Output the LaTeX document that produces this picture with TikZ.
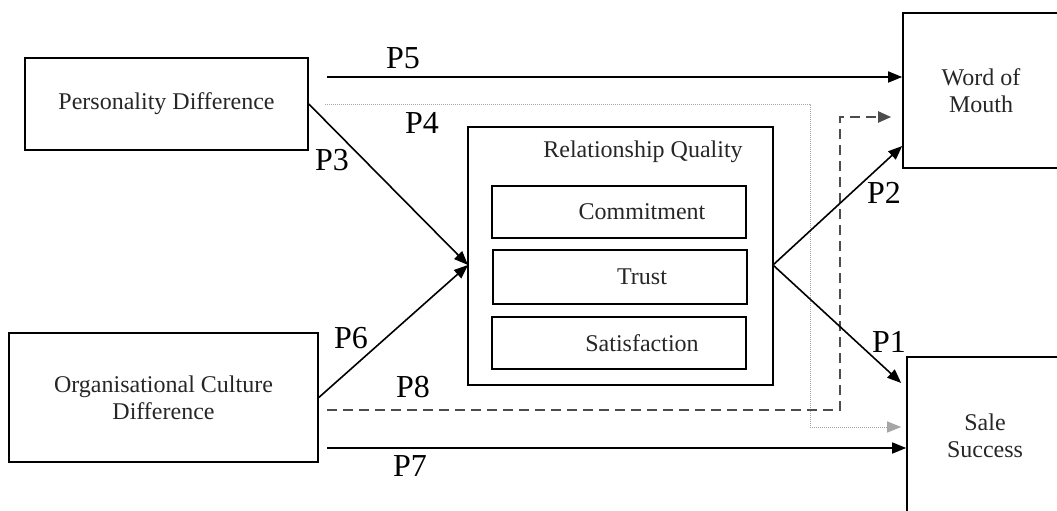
\documentclass[tikz,border=0pt]{standalone}
\usepackage{fontspec}
\setmainfont{Liberation Serif}
\usetikzlibrary{arrows.meta}
\tikzset{
  box/.style={draw, line width=1.6pt, minimum width=#1, inner sep=0pt, align=center,
              font=\fontsize{24}{27}\selectfont, text=black!85},
  boxtext/.style={font=\fontsize{24}{27}\selectfont, text=black!85, inner sep=0pt},
  path/.style={line width=1.6pt, -{Triangle[length=14pt,width=11pt]}},
  faint/.style={draw=black!35, line width=1pt, dash pattern=on 1pt off 1pt,
                -{Triangle[length=14pt,width=11pt]}},
  dashpath/.style={draw=black!70, line width=2pt, dash pattern=on 10pt off 6pt,
                   -{Triangle[length=13pt,width=11pt,sep=0pt]}},
  plab/.style={font=\fontsize{32}{32}\selectfont, inner sep=0pt}
}
\begin{document}
\begin{tikzpicture}[x=1pt,y=-1pt]
\useasboundingbox (0,0) rectangle (1057,511);

% constructs
\node[box=283pt, minimum height=92pt] (pd) at (166.5,104) {Personality Difference};
\node[box=309pt, minimum height=129pt] (ocd) at (163.5,397.5) {Organisational Culture\\Difference};
\node[box=305pt, minimum height=258pt] (rq) at (620.5,256) {};
\node[boxtext] (rqt) at (643,152) {Relationship Quality};
\node[box=254pt, minimum height=52pt] (com) at (619,212) {};
\node[boxtext] at (642,212) {Commitment};
\node[box=254pt, minimum height=54pt] (tru) at (620,277) {};
\node[boxtext] at (642,277) {Trust};
\node[box=254pt, minimum height=52pt] (sat) at (619,343) {};
\node[boxtext] at (642,343) {Satisfaction};
\node[box=156pt, minimum height=155pt] (wom) at (981,90.5) {Word of\\Mouth};
\node[box=156pt, minimum height=158pt] (ss) at (985,436) {Sale\\Success};

% free ends of the paths
\coordinate (rqin) at (468,265);
\coordinate (rqout) at (773,265);
\coordinate (p5s) at (327,77);
\coordinate (p4s) at (325,104);
\coordinate (p8s) at (327,410);
\coordinate (p7s) at (327,448);

% paths
\draw[path] (p5s) -- (wom.west |- p5s);
\draw[faint] (p4s) -- (810,104) -- (810,427) -- ([xshift=-5pt]ss.west |- 0,427);
\draw[path] (pd.east) -- (rqin);
\draw[path] (ocd.east) -- (rqin);
\draw[dashpath] (p8s) -- (840,410) -- (840,117) -- ([xshift=-11pt]wom.west |- 0,117);
\draw[path] (p7s) -- (ss.west |- p7s);
\draw[path] (rqout) -- (wom.west |- 0,146);
\draw[path] (rqout) -- ([xshift=-5pt]ss.west |- 0,383);

% labels
\node[plab] at (403,58) {P5};
\node[plab] at (422,123) {P4};
\node[plab] at (332,160) {P3};
\node[plab] at (351,338) {P6};
\node[plab] at (413,387) {P8};
\node[plab] at (410,466) {P7};
\node[plab] at (884,193) {P2};
\node[plab] at (889,342) {P1};
\end{tikzpicture}
\end{document}
